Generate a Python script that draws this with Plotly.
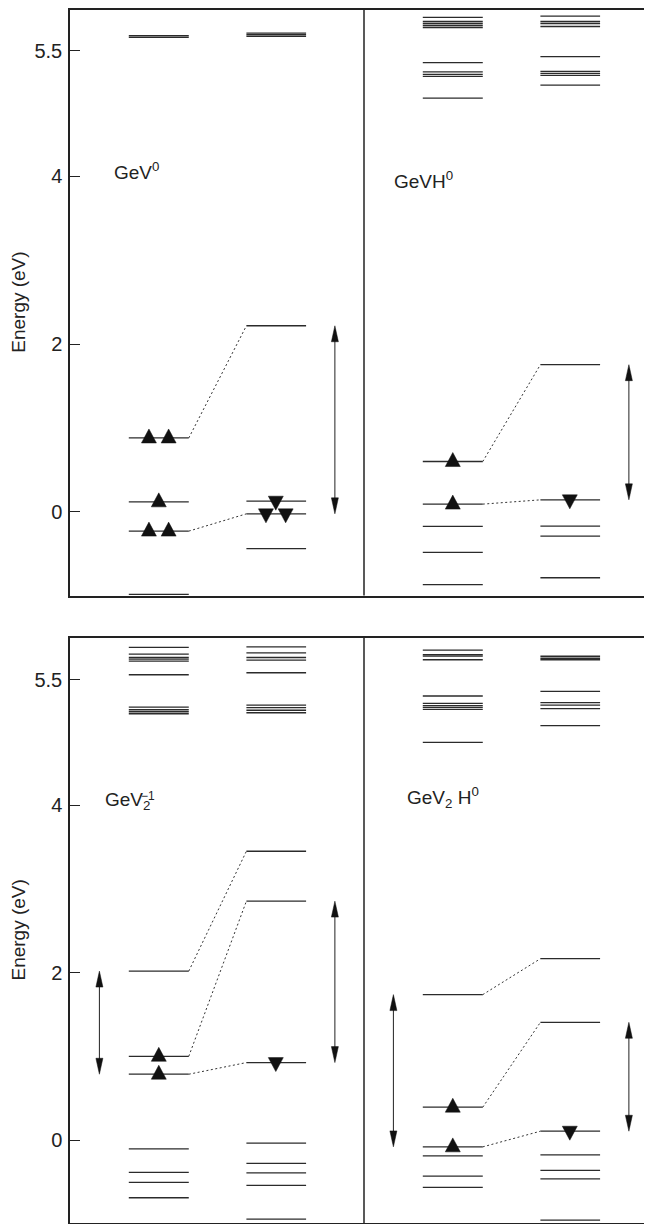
import plotly.graph_objects as go

# ---------------- data (energies in eV) ----------------
# GeV0
gev0_up = [5.68, 5.66, 0.881, 0.119, -0.23, -0.985]
gev0_up_occ = [0, 0, 2, 1, 2, 0]
gev0_dn = [5.71, 5.69, 5.67, 2.219, 0.127, -0.024, -0.44]
gev0_dn_occ = [0, 0, 0, 0, 1, 2, 0]
gev0_links = [(0.881, 2.219), (-0.23, -0.024)]
gev0_arrows = [("R", 2.219, -0.024)]

# GeVH0
gevh_up = [5.898, 5.848, 5.824, 5.80, 5.776, 5.357, 5.246, 5.217, 5.193, 4.933,
           0.60, 0.092, -0.174, -0.483, -0.869]
gevh_up_occ = [0] * 10 + [1, 1, 0, 0, 0]
gevh_dn = [5.913, 5.848, 5.824, 5.788, 5.429, 5.252, 5.229, 5.205, 5.088,
           1.755, 0.143, -0.17, -0.289, -0.786]
gevh_dn_occ = [0] * 9 + [0, 1, 0, 0, 0]
gevh_links = [(0.60, 1.755), (0.092, 0.143)]
gevh_arrows = [("R", 1.755, 0.143)]

# GeV2(-1)
gev2m_up = [5.887, 5.808, 5.767, 5.748, 5.724, 5.561, 5.173, 5.143, 5.119, 5.095,
            2.02, 1.002, 0.788, -0.103, -0.386, -0.505, -0.688]
gev2m_up_occ = [0] * 10 + [0, 1, 1, 0, 0, 0, 0]
gev2m_dn = [5.895, 5.823, 5.767, 5.736, 5.585, 5.197, 5.167, 5.137, 5.107,
            3.452, 2.856, 0.927, -0.036, -0.278, -0.39, -0.541, -0.943]
gev2m_dn_occ = [0] * 9 + [0, 0, 1, 0, 0, 0, 0, 0]
gev2m_links = [(2.02, 3.452), (1.002, 2.856), (0.788, 0.927)]
gev2m_arrows = [("L", 2.02, 0.788), ("R", 2.856, 0.927)]

# GeV2H0
gev2h_up = [5.856, 5.80, 5.784, 5.74, 5.307, 5.218, 5.191, 5.171, 5.147, 4.753,
            1.739, 0.394, -0.08, -0.187, -0.43, -0.564]
gev2h_up_occ = [0] * 10 + [0, 1, 1, 0, 0, 0]
gev2h_dn = [5.782, 5.758, 5.74, 5.362, 5.227, 5.197, 5.155, 4.952,
            2.168, 1.408, 0.107, -0.175, -0.362, -0.462, -0.955]
gev2h_dn_occ = [0] * 8 + [0, 0, 1, 0, 0, 0, 0]
gev2h_links = [(1.739, 2.168), (0.394, 1.408), (-0.08, 0.107)]
gev2h_arrows = [("L", 1.739, -0.08), ("R", 1.408, 0.107)]

tick_vals = [0, 2, 4, 5.5]
tick_text = ["0", "2", "4", "5.5"]

# ---------------- geometry / style ----------------
PX_X = 1 / 294.0     # panel width = 1 unit = 294 px
PX_Y = 1 / 83.9      # eV per px
COL_L = (0.200, 0.404)
COL_R = (0.600, 0.803)
TRI_C = {"L": 0.302, "R": 0.700}
PAIR_D = 0.0335
ARROW_X = {"L": 0.100, "R": 0.901}
LINE_C = "#2b2b2b"
FONT = "Liberation Sans, Arial, Helvetica, sans-serif"

panels = [
    dict(ax="x", ay="y", off=0, up=gev0_up, uo=gev0_up_occ, dn=gev0_dn, do=gev0_dn_occ,
         links=gev0_links, arrows=gev0_arrows),
    dict(ax="x", ay="y", off=1, up=gevh_up, uo=gevh_up_occ, dn=gevh_dn, do=gevh_dn_occ,
         links=gevh_links, arrows=gevh_arrows),
    dict(ax="x2", ay="y2", off=0, up=gev2m_up, uo=gev2m_up_occ, dn=gev2m_dn, do=gev2m_dn_occ,
         links=gev2m_links, arrows=gev2m_arrows),
    dict(ax="x2", ay="y2", off=1, up=gev2h_up, uo=gev2h_up_occ, dn=gev2h_dn, do=gev2h_dn_occ,
         links=gev2h_links, arrows=gev2h_arrows),
]

fig = go.Figure()


def tri(cx, yline, direction):
    hw = 7.5 * PX_X
    apex = 9.0 * PX_Y
    base = 5.0 * PX_Y
    if direction == "up":
        yb, ya = yline - base, yline + apex
    else:
        yb, ya = yline + base, yline - apex
    return [cx - hw, cx + hw, cx, cx - hw, None], [yb, yb, ya, yb, None]


for p in panels:
    o = p["off"]
    # levels
    xs, ys = [], []
    for e in p["up"]:
        xs += [o + COL_L[0], o + COL_L[1], None]
        ys += [e, e, None]
    for e in p["dn"]:
        xs += [o + COL_R[0], o + COL_R[1], None]
        ys += [e, e, None]
    fig.add_trace(go.Scatter(x=xs, y=ys, mode="lines", xaxis=p["ax"], yaxis=p["ay"],
                             line=dict(color=LINE_C, width=1.3), hoverinfo="skip",
                             showlegend=False))
    # dashed links
    xs, ys = [], []
    for a, b in p["links"]:
        xs += [o + COL_L[1], o + COL_R[0], None]
        ys += [a, b, None]
    fig.add_trace(go.Scatter(x=xs, y=ys, mode="lines", xaxis=p["ax"], yaxis=p["ay"],
                             line=dict(color="#333333", width=1, dash="2px,2.5px"),
                             hoverinfo="skip", showlegend=False))
    # occupation triangles
    xs, ys = [], []
    for side, levels, occ, d in (("L", p["up"], p["uo"], "up"), ("R", p["dn"], p["do"], "down")):
        for e, n in zip(levels, occ):
            if n == 0:
                continue
            cxs = [TRI_C[side]] if n == 1 else [TRI_C[side] - PAIR_D, TRI_C[side] + PAIR_D]
            for cx in cxs:
                tx, ty = tri(o + cx, e, d)
                xs += tx
                ys += ty
    fig.add_trace(go.Scatter(x=xs, y=ys, mode="lines", fill="toself", fillcolor="#111111",
                             xaxis=p["ax"], yaxis=p["ay"], line=dict(color="#111111", width=0.5),
                             hoverinfo="skip", showlegend=False))
    # double arrows
    sx, sy, hx, hy = [], [], [], []
    L = 16 * PX_Y
    HW = 3.5 * PX_X
    for side, top, bot in p["arrows"]:
        x = o + ARROW_X[side]
        sx += [x, x, None]
        sy += [top - 4 * PX_Y, bot + 4 * PX_Y, None]
        hx += [x - HW, x + HW, x, x - HW, None, x - HW, x + HW, x, x - HW, None]
        hy += [top - L, top - L, top, top - L, None, bot + L, bot + L, bot, bot + L, None]
    fig.add_trace(go.Scatter(x=sx, y=sy, mode="lines", xaxis=p["ax"], yaxis=p["ay"],
                             line=dict(color="#222222", width=1), hoverinfo="skip",
                             showlegend=False))
    fig.add_trace(go.Scatter(x=hx, y=hy, mode="lines", fill="toself", fillcolor="#111111",
                             xaxis=p["ax"], yaxis=p["ay"], line=dict(color="#111111", width=0.5),
                             hoverinfo="skip", showlegend=False))

# page body has an 8 px margin; figure sized to fill the rest of the window
W, H = 644, 1216
XR = [0, 582 / 294.0]
TOP_DOM = [0.5177, 1.0]
BOT_DOM = [0.0008, 0.4827]
axis_common = dict(showgrid=False, zeroline=False, showline=True, linewidth=1.5,
                   linecolor="#222222")
xcommon = dict(axis_common, range=XR, showticklabels=False, ticks="", mirror=True,
               domain=[0, 1])
ycommon = dict(axis_common, tickvals=tick_vals, ticktext=tick_text,
               ticks="inside", ticklen=10, tickwidth=1.3, tickcolor="#222222",
               ticklabelstandoff=2,
               tickfont=dict(family=FONT, size=20, color="#222222"))

fig.update_layout(
    width=W, height=H,
    margin=dict(l=62, r=0, t=0, b=0),
    paper_bgcolor="white", plot_bgcolor="white",
    xaxis=dict(xcommon, anchor="y"),
    yaxis=dict(ycommon, anchor="x", domain=TOP_DOM, range=[-0.998, 5.985]),
    xaxis2=dict(xcommon, anchor="y2"),
    yaxis2=dict(ycommon, anchor="x2", domain=BOT_DOM, range=[-0.99, 6.0]),
    font=dict(family=FONT, size=18, color="#222222"),
)

# panel dividers
for xr, yr in (("x", "y domain"), ("x2", "y2 domain")):
    fig.add_shape(type="line", xref=xr, yref=yr, x0=1, x1=1, y0=0, y1=1,
                  line=dict(color="#222222", width=1.5))

# axis titles
for dom in (TOP_DOM, BOT_DOM):
    fig.add_annotation(text="Energy (eV)", xref="paper", yref="paper",
                       x=(19 - 70) / 582.0, y=(dom[0] + dom[1]) / 2, xanchor="center",
                       yanchor="middle", textangle=-90, showarrow=False, borderpad=0,
                       font=dict(size=19))

# panel labels
labels = [
    ("x", "y", 0.143, 4.06, "GeV<sup>0</sup>"),
    ("x", "y", 1.095, 3.96, "GeVH<sup>0</sup>"),
    ("x2", "y2", 0.112, 4.05, "GeV<sub>2</sub>"),
    ("x2", "y2", 1.139, 4.10, "GeV<sub>2</sub> H<sup>0</sup>"),
]
for xr, yr, x, y, t in labels:
    fig.add_annotation(text=t, xref=xr, yref=yr, x=x, y=y, xanchor="left",
                       yanchor="middle", showarrow=False, font=dict(size=19))
fig.add_annotation(text="\u22121", xref="x2", yref="y2", x=(140 - 70) / 294.0, y=4.11,
                   xanchor="left", yanchor="middle", showarrow=False, borderpad=0,
                   font=dict(size=12))

fig.write_html("out.html")
